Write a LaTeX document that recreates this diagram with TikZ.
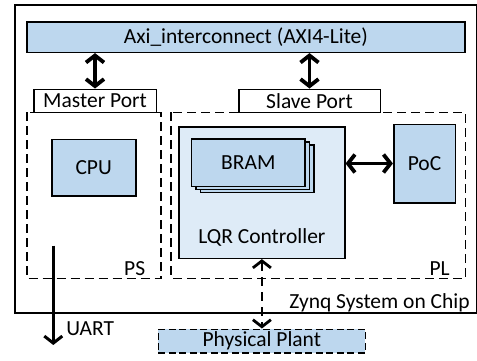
\documentclass[tikz,border=0pt]{standalone}
\usepackage{fontspec}
\setmainfont{Carlito}
\usetikzlibrary{arrows.meta}
\usetikzlibrary{shadows}

\definecolor{boxblue}{RGB}{189,215,238}
\definecolor{paleblue}{RGB}{222,235,247}

\begin{document}
\begin{tikzpicture}
[x=1pt,y=-1pt,line width=1.6pt,%
  font=\fontsize{21.5}{25}\selectfont,%
  block/.style={draw,fill=boxblue,inner sep=0pt},%
  port/.style={draw,fill=white,inner sep=0pt,minimum height=23pt},%
  region/.style={draw,dash pattern=on 9pt off 5pt},%
  biarrow/.style={{Straight Barb[length=7pt,width=18pt]}-{Straight Barb[length=7pt,width=18pt]},line width=3.8pt},%
  tag/.style={inner sep=0pt}]
\useasboundingbox (0,0) rectangle (477,360);
% chip outline and bus
\draw (14.7,4.7) rectangle (476.4,313);
\node[block,minimum width=438.3pt,minimum height=30.6pt] (axi) at (245.9,37) {Axi\_interconnect (AXI4-Lite)};
\node[port,minimum width=122.6pt] (master) at (95,100.8) {Master Port};
\node[port,minimum width=141.6pt] (slave) at (309.5,100.8) {Slave Port};
% PS and PL
\draw[region] (26.7,112.3) rectangle (161,278.3);
\draw[region] (171,112.3) rectangle (465.3,278.3);
\node[tag,anchor=base east] (ps) at (146,275) {PS};
\node[tag,anchor=base east] (pl) at (450.5,275) {PL};
\node[block,minimum width=84pt,minimum height=56.4pt] (cpu) at (93.7,167.5) {CPU};
\node[block,fill=paleblue,minimum width=165.7pt,minimum height=131.6pt] (lqr) at (261.9,192.5) {};
\node[tag,anchor=base,yshift=15.6pt] (lqrname) at (lqr.south) {LQR Controller};
\node[block,minimum width=113.3pt,minimum height=47.6pt,%
  copy shadow={shadow xshift=9pt,shadow yshift=-6pt,draw,fill=boxblue},%
  copy shadow={shadow xshift=4.5pt,shadow yshift=-3pt,draw,fill=boxblue}] (bram) at (248.3,162.8) {BRAM};
\node[block,minimum width=61.6pt,minimum height=78.4pt] (poc) at (424.5,163.5) {PoC};
\node[tag,anchor=base east] (zynq) at (470.5,308) {Zynq System on Chip};
% outside
\node[block,dash pattern=on 7pt off 3.5pt,minimum width=207pt,minimum height=23.4pt] (plant) at (261.8,341) {Physical Plant};
\coordinate (uarttop) at (53.3,245.7);
\coordinate (uartend) at (53.3,345);
\node[tag,anchor=base west] (uart) at (65.5,335) {UART};
% links
\draw[biarrow] (master.north |- axi.south) -- (master.north);
\draw[biarrow] (slave.north |- axi.south) -- (slave.north);
\draw[biarrow] (lqr.east |- poc.west) -- (poc.west);
\draw[biarrow,line width=2.8pt,dash pattern=on 9pt off 6pt] (lqr.south) -- (lqr.south |- plant.north);
\draw[-{Straight Barb[length=7pt,width=18pt]},line width=3pt] (uarttop) -- (uartend);
\end{tikzpicture}
\end{document}
